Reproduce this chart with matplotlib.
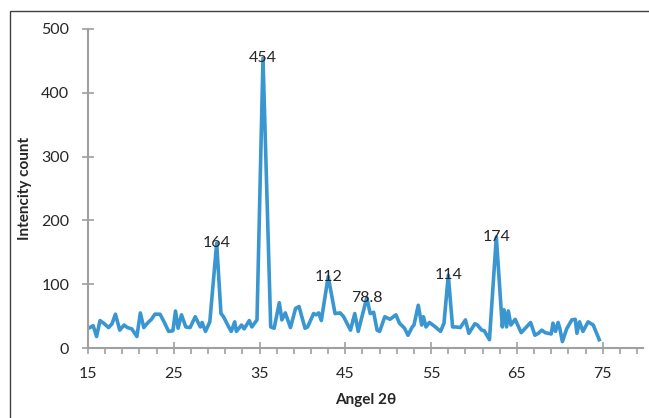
import matplotlib
matplotlib.use("Agg")
import matplotlib.pyplot as plt
from matplotlib.patches import Rectangle
from matplotlib.ticker import MultipleLocator

plt.rcParams['font.family'] = ['Lato', 'DejaVu Sans']

# XRD scan: 2-theta angle vs. intensity
angle = [15.2, 15.6, 16.0, 16.4, 16.9, 17.4, 17.8, 18.2, 18.7, 19.2, 19.6, 20.1,
         20.7, 21.1, 21.5, 22.0, 22.4, 22.8, 23.4, 23.9, 24.4, 24.9, 25.2, 25.5,
         25.9, 26.4, 26.9, 27.5, 28.1, 28.3, 28.7, 29.2, 30.0, 30.5, 30.8, 31.4,
         31.7, 32.1, 32.3, 32.9, 33.2, 33.8, 34.1, 34.7, 35.4, 36.3, 36.7, 37.3,
         37.6, 38.0, 38.6, 39.2, 39.6, 40.3, 40.6, 41.3, 41.6, 41.9, 42.2, 43.0,
         43.8, 44.4, 44.8, 45.3, 45.6, 46.1, 46.5, 47.5, 47.9, 48.3, 48.7, 49.0,
         49.6, 50.2, 50.9, 51.3, 51.9, 52.3, 52.8, 53.0, 53.5, 53.9, 54.1, 54.4,
         54.8, 55.2, 55.5, 56.1, 56.5, 57.0, 57.5, 57.9, 58.4, 59.0, 59.4, 60.1,
         60.4, 60.9, 61.2, 61.8, 62.6, 63.3, 63.5, 63.8, 64.0, 64.3, 64.8, 65.5,
         66.6, 67.1, 67.5, 67.9, 68.3, 69.0, 69.2, 69.5, 69.8, 70.0, 70.3, 70.8,
         71.4, 71.8, 72.0, 72.3, 72.7, 73.3, 73.9, 74.6]
counts = [32, 35, 18, 43, 38, 32, 38, 53, 28, 36, 32, 30,
          18, 55, 32, 40, 45, 53, 53, 40, 26, 27, 58, 31,
          52, 33, 32, 49, 33, 40, 26, 41, 164, 54, 49, 33,
          26, 41, 26, 36, 30, 43, 33, 44, 454, 33, 31, 71,
          44, 55, 32, 62, 65, 31, 33, 54, 52, 55, 43, 112,
          54, 55, 49, 36, 28, 54, 26, 78.8, 54, 56, 28, 26,
          49, 45, 52, 39, 31, 20, 33, 36, 67, 36, 49, 33,
          40, 36, 33, 26, 39, 114, 33, 33, 32, 44, 23, 38,
          36, 28, 27, 13, 174, 33, 60, 33, 58, 36, 45, 24,
          40, 20, 23, 28, 24, 22, 39, 26, 40, 31, 10, 30,
          44, 45, 23, 41, 26, 41, 36, 13]

# peaks that get a value label
peak_angles = [30.0, 35.4, 43.0, 47.5, 57.0, 62.6]
peak_counts = [164, 454, 112, 78.8, 114, 174]

W, H = 649, 418
fig = plt.figure(figsize=(W / 100, H / 100), dpi=100)
ax = fig.add_axes([88 / W, 1 - 348 / H, (643 - 88) / W, (348 - 29) / H])

ax.plot(angle, counts, color='#3a96d0', lw=2.6, solid_joinstyle='round')

for a, c in zip(peak_angles, peak_counts):
    ax.text(a, c, f'{c:g}', ha='center', va='center', fontsize=11.5, color='#262626')

ax.set_xlim(15, 79.7)
ax.set_ylim(0, 500)
ax.xaxis.set_major_locator(MultipleLocator(10, offset=5))
ax.xaxis.set_minor_locator(MultipleLocator(2, offset=1))
ax.yaxis.set_major_locator(MultipleLocator(100))

for s in ['top', 'right']:
    ax.spines[s].set_visible(False)
for s in ['left', 'bottom']:
    ax.spines[s].set_color('#a0a0a0')
    ax.spines[s].set_linewidth(1.5)

ax.tick_params(which='major', direction='inout', length=9, width=1.2,
               color='#a0a0a0', labelsize=11.5, labelcolor='#262626', pad=9)
ax.tick_params(axis='x', which='minor', direction='out', length=4, width=1.2,
               color='#a0a0a0')

ax.set_xlabel('Angel 2θ', fontsize=11, fontweight='bold', color='#262626', va='center')
ax.set_ylabel('Intencity count', fontsize=11, fontweight='bold', color='#262626', va='center')
ax.xaxis.set_label_coords(0.5, -0.163)
ax.yaxis.set_label_coords(-0.113, 0.5)

# outer chart border
fig.add_artist(Rectangle((9.5 / W, -0.1), 1.2, 1.1 - 11.5 / H, transform=fig.transFigure,
                         fill=False, edgecolor='#404040', lw=1))

fig.savefig('out.png', dpi=100)
